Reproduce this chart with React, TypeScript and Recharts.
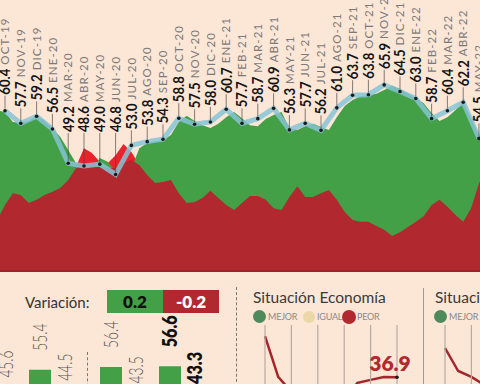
import React from "react";
import {
  ComposedChart,
  Area,
  Line,
  XAxis,
  YAxis,
  LabelList,
  BarChart,
  Bar,
  LineChart,
} from "recharts";

const BG = "#fce6d6";
const GREEN = "#44a047";
const RED = "#b2282f";
const BRIGHT_RED = "#e9222b";

// Índice mensual (etiquetas sobre la línea)
const MONTHS = [
  "OCT-19", "NOV-19", "DIC-19", "ENE-20", "MAR-20", "ABR-20", "MAY-20", "JUN-20",
  "JUL-20", "AGO-20", "SEP-20", "OCT-20", "NOV-20", "DIC-20", "ENE-21", "FEB-21",
  "MAR-21", "ABR-21", "MAY-21", "JUN-21", "JUL-21", "AGO-21", "SEP-21", "OCT-21",
  "NOV-21", "DIC-21", "ENE-22", "FEB-22", "MAR-22", "ABR-22", "MAY-22",
];
const INDEX_VALUES = [
  60.4, 57.7, 59.2, 56.5, 49.2, 48.6, 49.0, 46.8, 53.0, 53.8, 54.3, 58.8, 57.5, 58.0, 60.7, 57.7,
  58.7, 60.9, 56.3, 57.7, 56.2, 61.0, 63.7, 63.8, 65.9, 64.5, 63.0, 58.7, 60.4, 62.2, 54.5,
];

// Áreas de fondo (muestras cada medio mes)
const AREA_START = -0.5;
const AREA_STEP = 0.5;
const MEJOR_AREA = [
  60.5, 60.1, 58.0, 57.8, 58.2, 59.3, 58.2, 56.7, 54.8, 52.0,
  49.2, 47.5, 47.5, 50.3, 49.5, 47.5, 48.0, 48.0, 52.4, 53.5,
  53.9, 54.1, 55.2, 58.0, 59.3, 58.2, 57.3, 56.7, 57.6, 59.0,
  60.1, 58.8, 57.3, 57.1, 58.6, 59.5, 60.1, 56.7, 56.3, 57.1,
  57.6, 56.9, 56.3, 59.0, 61.4, 62.7, 63.5, 63.7, 64.0, 64.8,
  65.7, 65.0, 64.0, 63.1, 62.0, 59.9, 58.2, 59.0, 60.5, 62.2,
  58.8, 55.2, 53.7,
];
const PEOR_AREA = [
  37.1, 40.3, 42.8, 42.4, 40.7, 41.4, 42.4, 43.1, 43.9, 45.6,
  48.2, 48.6, 48.6, 48.4, 48.2, 48.2, 49.2, 49.9, 48.8, 46.7,
  45.0, 45.2, 45.6, 42.8, 40.7, 40.9, 41.8, 43.3, 41.8, 40.3,
  39.2, 40.7, 42.2, 42.2, 41.4, 39.6, 39.2, 42.0, 44.3, 42.0,
  42.0, 42.8, 43.5, 41.4, 38.8, 37.1, 36.7, 36.7, 35.8, 35.0,
  33.7, 34.5, 35.6, 36.7, 37.9, 40.3, 41.4, 39.9, 38.2, 36.7,
  39.6, 45.0, 47.7,
];
const SPIKE_START = 3.5;
const PEOR_SPIKE = [43.9, 45.6, 48.5, 52.4, 51.4, 49.5, 49.2, 50.9, 53.3, 51.6, 48.8, 46.7];

// Barras inferiores
const BAR_PERIODS = ["T1", "T2", "T3", "T4"];
const BAR_MEJOR = [54.3, 55.4, 56.4, 56.6];
const BAR_PEOR = [45.6, 44.5, 43.5, 43.3];

// Paneles de situación (serie PEOR)
const ECON_PEOR = [48.0, 37.0, 33.0, 31.5, 30.2, 29.8, 31.0, 35.4, 36.2, 37.0, 36.9];
const HOGAR_PEOR = [44.8, 38.6, 37.0, 34.8, 33.5, 32.0, 31.5, 33.0, 34.0, 34.5, 34.2];

const indexData = INDEX_VALUES.map((v, i) => ({ i, v }));
const toSeries = (start: number, vals: number[]) =>
  vals.map((v, k) => ({ i: start + k * AREA_STEP, v }));
const mejorData = toSeries(AREA_START, MEJOR_AREA);
const peorData = toSeries(AREA_START, PEOR_AREA);
const spikeData = toSeries(SPIKE_START, PEOR_SPIKE);

const barRows = BAR_PERIODS.map((p, k) => ({ p, mejor: BAR_MEJOR[k], peor: BAR_PEOR[k] }));
const econData = ECON_PEOR.map((v, i) => ({ i, v }));
const hogarData = HOGAR_PEOR.map((v, i) => ({ i, v }));

const IndexLabel = (props: any) => {
  const { x, y, value, index } = props;
  if (x == null || y == null) return null;
  const base = Math.min(y - 16, 132);
  return (
    <g>
      <line x1={x} x2={x} y1={y - 2} y2={base + 1} stroke="#4a4a4a" strokeWidth={0.7} />
      <text
        transform={`translate(${x + 5.3},${base}) rotate(-90)`}
        fontSize={15}
        fontWeight={700}
        fill="#151515"
        textLength={26}
        lengthAdjust="spacingAndGlyphs"
      >
        {Number(value).toFixed(1)}
      </text>
      <text
        transform={`translate(${x + 4.2},${base - 30}) rotate(-90)`}
        fontSize={11.5}
        letterSpacing={1.1}
        fill="#7a7a7a"
      >
        {MONTHS[index]}
      </text>
    </g>
  );
};

const barLabel = (boldIndex: number) => (props: any) => {
  const { x, y, width, value, index } = props;
  const bold = index === boldIndex;
  const cx = x + width / 2;
  return (
    <text
      transform={`translate(${cx + 7},${y - 19}) rotate(-90)`}
      fontSize={20}
      fontWeight={bold ? 800 : 300}
      fill={bold ? "#111" : "#555"}
      textLength={bold ? 32 : 27}
      lengthAdjust="spacingAndGlyphs"
    >
      {Number(value).toFixed(1)}
    </text>
  );
};

const EconLabel = (props: any) => {
  const { x, y, value, index } = props;
  if (index !== ECON_PEOR.length - 1) return null;
  return (
    <g>
      <circle cx={x} cy={y} r={1.8} fill="#1a1a1a" />
      <text x={x - 7} y={y - 6} textAnchor="middle" fontSize={21} fontWeight={800} fill={RED}>
        {Number(value).toFixed(1)}
      </text>
    </g>
  );
};

// rejilla vertical cada dos periodos, dibujada en la posición de cada punto
const SIT_H = 150;
const SIT_MARGIN = { top: 25, right: 23, bottom: 10, left: 20 };
const gridDot = (p: any) =>
  p.index % 2 === 0 ? (
    <rect
      key={`g${p.index}`}
      x={p.cx - 0.6}
      y={SIT_MARGIN.top}
      width={1.2}
      height={SIT_H - SIT_MARGIN.top - SIT_MARGIN.bottom}
      fill="#b9aba1"
    />
  ) : (
    <g key={`g${p.index}`} />
  );

const legendText = { position: "absolute" as const, top: 310, lineHeight: "13px", fontSize: 9, letterSpacing: -0.2, color: "#8a8a8a" };

const Legend = ({ left }: { left: number }) => (
  <>
    <div style={{ position: "absolute", left, top: 310, width: 13, height: 13, borderRadius: "50%", background: "#4f8a5c" }} />
    <div style={{ ...legendText, left: left + 15 }}>MEJOR</div>
    <div style={{ position: "absolute", left: left + 50, top: 310.5, width: 12, height: 12, borderRadius: "50%", background: "#ecd7a6" }} />
    <div style={{ ...legendText, left: left + 64 }}>IGUAL</div>
    <div style={{ position: "absolute", left: left + 89, top: 309.5, width: 14, height: 14, borderRadius: "50%", background: RED }} />
    <div style={{ ...legendText, left: left + 104 }}>PEOR</div>
  </>
);

const BarGroup = ({ left, rows, boldIndex }: { left: number; rows: any[]; boldIndex: number }) => (
  <div style={{ position: "absolute", left, top: 247 }}>
    <BarChart width={118} height={275} data={rows} margin={{ top: 0, right: 0, bottom: 0, left: 0 }} barSize={22} barGap={3}>
      <XAxis dataKey="p" hide />
      <YAxis domain={[0, 100]} hide />
      <Bar dataKey="mejor" fill={GREEN} isAnimationActive={false}>
        <LabelList dataKey="mejor" content={barLabel(boldIndex)} />
      </Bar>
      <Bar dataKey="peor" fill={RED} isAnimationActive={false}>
        <LabelList dataKey="peor" content={barLabel(boldIndex)} />
      </Bar>
    </BarChart>
  </div>
);

const SituationChart = ({ left, data }: { left: number; data: any[] }) => (
  <div style={{ position: "absolute", left, top: 300 }}>
    <LineChart width={175} height={SIT_H} data={data} margin={SIT_MARGIN}>
      <XAxis type="number" dataKey="i" domain={[0, 10]} hide />
      <YAxis domain={[20, 51]} hide />
      <Line type="linear" dataKey="v" stroke="transparent" dot={gridDot} activeDot={false} isAnimationActive={false} />
      <Line type="linear" dataKey="v" stroke="#a3262c" strokeWidth={2.5} dot={false} isAnimationActive={false}>
        <LabelList dataKey="v" content={EconLabel} />
      </Line>
    </LineChart>
  </div>
);

const App = () => {
  return (
    <div
      style={{
        position: "absolute",
        left: 0,
        top: 0,
        width: 480,
        height: 384,
        overflow: "hidden",
        background: BG,
        fontFamily: "Lato, 'Open Sans', sans-serif",
      }}
    >
      <div style={{ position: "absolute", left: 0, top: 0 }}>
        <ComposedChart width={480} height={272} margin={{ top: 0, right: 0, bottom: 0, left: 0 }}>
          <XAxis type="number" dataKey="i" domain={[-0.3165, 30.063]} allowDataOverflow hide />
          <YAxis domain={[26, 84]} allowDataOverflow hide />
          <Area data={spikeData} dataKey="v" type="linear" stroke="none" fill={BRIGHT_RED} fillOpacity={1} isAnimationActive={false} />
          <Area data={mejorData} dataKey="v" type="linear" stroke="none" fill={GREEN} fillOpacity={1} isAnimationActive={false} />
          <Area data={peorData} dataKey="v" type="linear" stroke="none" fill={RED} fillOpacity={1} isAnimationActive={false} />
          <Line
            data={indexData}
            dataKey="v"
            type="linear"
            stroke="#86c3d6"
            strokeOpacity={0.85}
            strokeWidth={5}
            dot={{ r: 1.8, fill: "#1a1a1a", stroke: "none" }}
            isAnimationActive={false}
          >
            <LabelList dataKey="v" content={IndexLabel} />
          </Line>
        </ComposedChart>
      </div>
      <div style={{ position: "absolute", left: 0, top: 270, width: 480, height: 2, background: "#9d2229" }} />

      {/* Variación */}
      <div style={{ position: "absolute", left: 25, top: 295, fontSize: 15, lineHeight: "15px", color: "#333" }}>Variación:</div>
      <div style={{ position: "absolute", left: 107, top: 290, width: 56, height: 23, background: GREEN, display: "flex", alignItems: "center", justifyContent: "center", fontWeight: 800, fontSize: 17, color: "#111" }}>0.2</div>
      <div style={{ position: "absolute", left: 163, top: 290, width: 56, height: 23, background: RED, display: "flex", alignItems: "center", justifyContent: "center", fontWeight: 800, fontSize: 17, color: "#fff" }}>-0.2</div>

      <BarGroup left={-36} rows={barRows.slice(0, 2)} boldIndex={-1} />
      <BarGroup left={94} rows={barRows.slice(2)} boldIndex={1} />

      <div style={{ position: "absolute", left: 87, top: 352, height: 40, borderLeft: "1px dashed #777" }} />
      <div style={{ position: "absolute", left: 236, top: 287, height: 100, borderLeft: "1px dashed #777" }} />
      <div style={{ position: "absolute", left: 423, top: 288, height: 100, borderLeft: "1px solid #9a9a9a" }} />

      {/* Situación Economía */}
      <div style={{ position: "absolute", left: 253, top: 290, fontSize: 15.5, lineHeight: "15.5px", color: "#3a3a3a", whiteSpace: "nowrap" }}>Situación Economía</div>
      <Legend left={253} />
      <SituationChart left={245} data={econData} />

      {/* Situación Hogar */}
      <div style={{ position: "absolute", left: 435, top: 290, fontSize: 15.5, lineHeight: "15.5px", color: "#3a3a3a", whiteSpace: "nowrap" }}>Situación Hogar</div>
      <Legend left={434} />
      <SituationChart left={425} data={hogarData} />
    </div>
  );
};

export default App;
